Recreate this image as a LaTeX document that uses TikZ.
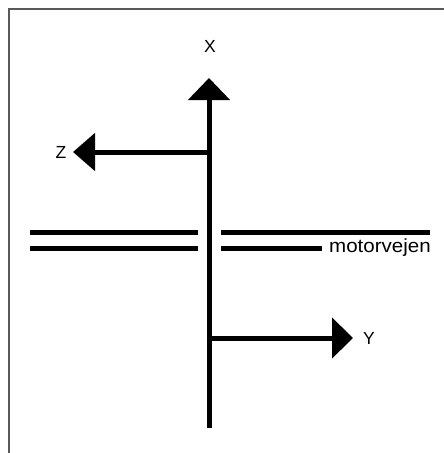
\documentclass[tikz,border=0pt]{standalone}
\usepackage{fontspec}
\setmainfont{Liberation Sans}
\usetikzlibrary{arrows.meta}
\begin{document}
\begin{tikzpicture}[x=1pt,y=-1pt,
  axis/.style={line width=5pt,black},
  road/.style={line width=5pt,black},
  lbl/.style={inner sep=0pt,font=\fontsize{17.5}{19}\selectfont},
  frameline/.style={line width=2pt,draw=black!65}]
\useasboundingbox (0,0) rectangle (444,453);
\fill[white] (0,0) rectangle (444,453);
% frame
\coordinate (fbl) at (8.5,453);
\coordinate (ftl) at (8.5,9);
\coordinate (ftr) at (444,9);
\draw[frameline] (fbl) -- (ftl) -- (ftr);
% axes
\coordinate (vbot) at (209,428);
\coordinate (xtip) at (209,78);
\coordinate (zstart) at (209,152);
\coordinate (ztip) at (73,152);
\coordinate (ystart) at (209,338);
\coordinate (ytip) at (353,338);
\draw[axis,-{Triangle[length=22pt,width=41pt]}] (vbot) -- (xtip);
\draw[axis,-{Triangle[length=22pt,width=37pt]}] (zstart) -- (ztip);
\draw[axis,-{Triangle[length=21pt,width=40pt]}] (ystart) -- (ytip);
% road
\coordinate (r1a) at (30,232);
\coordinate (r1b) at (198,232);
\coordinate (r2a) at (30,248.5);
\coordinate (r2b) at (198,248.5);
\coordinate (r3a) at (221,232);
\coordinate (r3b) at (430,232);
\coordinate (r4a) at (221,248.5);
\coordinate (r4b) at (322,248.5);
\draw[road] (r1a) -- (r1b);
\draw[road] (r2a) -- (r2b);
\draw[road] (r3a) -- (r3b);
\draw[road] (r4a) -- (r4b);
% labels
\node[lbl] (xl) at (210,46) {X};
\node[lbl] (zl) at (61,152) {Z};
\node[lbl] (yl) at (369,338) {Y};
\node[lbl,anchor=base west,font=\fontsize{19}{21}\selectfont,xscale=1.08] (mv) at (329,252) {motorvejen};
\end{tikzpicture}
\end{document}
